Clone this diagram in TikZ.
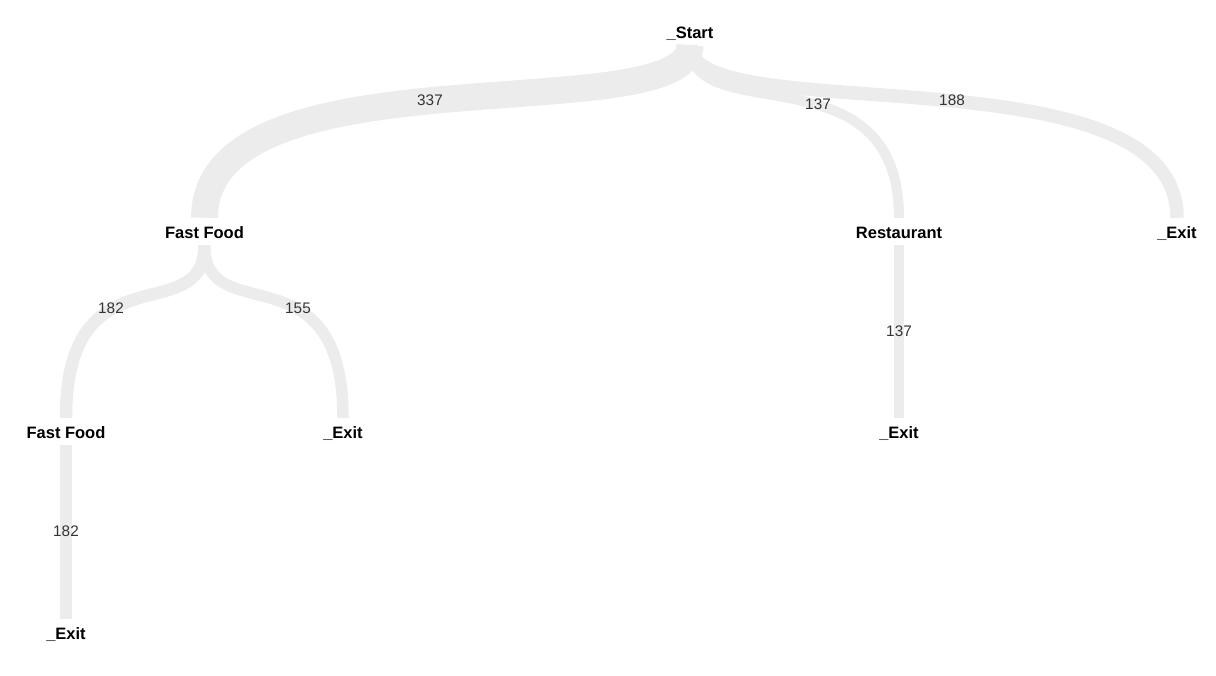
\documentclass[tikz,border=0pt]{standalone}
\usepackage{fontspec}
\setmainfont{Liberation Sans}
\usetikzlibrary{calc}
\definecolor{bandc}{RGB}{236,236,236}
\definecolor{lblc}{RGB}{51,51,51}
\newcommand\flowlink[3]{\draw[flow=#1] let \p1=(#2.south), \p2=(#3.north) in
  (\p1) .. controls (\x1,{0.5*(\y1+\y2)}) and (\x2,\y1) .. (\p2);}
\begin{document}
\begin{tikzpicture}[x=1pt,y=-1pt,
  stage/.style={anchor=base, font=\fontsize{16.5}{19}\selectfont\bfseries, text height=14.5pt, text depth=0.5pt, inner ysep=6pt, inner xsep=0pt},
  flow/.style={draw=bandc, line width=#1},
  flowlabel/.style={font=\fontsize{15.3}{18}\selectfont, text=lblc, inner sep=0pt}]
\useasboundingbox (0,0) rectangle (1216,676);
% nodes
\node[stage] (start) at (690,38.5) {\_Start};
\node[stage] (ff1) at (204.5,238.5) {Fast Food};
\node[stage] (rest) at (899,238.5) {Restaurant};
\node[stage] (exitA) at (1177,238.5) {\_Exit};
\node[stage] (ff2) at (66,438.5) {Fast Food};
\node[stage] (exitB) at (343,438.5) {\_Exit};
\node[stage] (exitC) at (899,438.5) {\_Exit};
\node[stage] (exitD) at (66,639.5) {\_Exit};
% flows
\flowlink{27}{start}{ff1}
\flowlink{10}{start}{rest}
\flowlink{13.5}{start}{exitA}
\flowlink{12.5}{ff1}{ff2}
\flowlink{11.5}{ff1}{exitB}
\draw[flow=10] (rest.south) -- (exitC.north);
\draw[flow=12.5] (ff2.south) -- (exitD.north);
% labels
\node[flowlabel] (l337) at (430,100) {337};
\node[flowlabel] (l137a) at (818,104) {137};
\node[flowlabel] (l188) at (952,100) {188};
\node[flowlabel] (l182a) at (111,308) {182};
\node[flowlabel] (l155) at (298,308) {155};
\node[flowlabel] (l137b) at (899,331) {137};
\node[flowlabel] (l182b) at (66,531) {182};
\end{tikzpicture}
\end{document}
